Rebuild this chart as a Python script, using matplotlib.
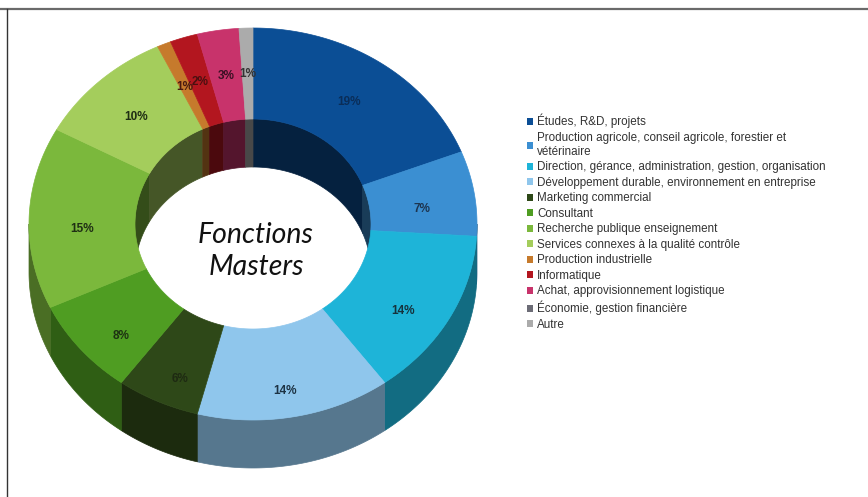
import numpy as np
import matplotlib
matplotlib.use('Agg')
import matplotlib.pyplot as plt
from matplotlib.patches import Polygon, Patch
from matplotlib.colors import to_rgb

# ------------------------------------------------------------
# Données
# ------------------------------------------------------------
categories = [
    "Études, R&D, projets",
    "Production agricole, conseil agricole, forestier et\nvétérinaire",
    "Direction, gérance, administration, gestion, organisation",
    "Développement durable, environnement en entreprise",
    "Marketing commercial",
    "Consultant",
    "Recherche publique enseignement",
    "Services connexes à la qualité contrôle",
    "Production industrielle",
    "Informatique",
    "Achat, approvisionnement logistique",
    "Économie, gestion financière",
    "Autre",
]
values = [19, 7, 14, 14, 6, 8, 15, 10, 1, 2, 3, 0, 1]
colors = ["#0b4e95", "#3b8fd2", "#1eb4d8", "#8fc6ec", "#2e4818", "#4f9d22",
          "#7bb83c", "#a4cd5c", "#c67a2c", "#b3161f", "#c8336b", "#6c6c76",
          "#ababab"]
label_colors = ["#0a2d58", "#1d3550", "#16323c", "#1d3344", "#1e2a12", "#1d3212",
                "#1f2e14", "#1f2e14", "#4a1a10", "#4a1010", "#3a1024", "#222222",
                "#333333"]
center_title = "Fonctions\nMasters"

# ------------------------------------------------------------
# Géométrie de l'anneau 3D (coordonnées en pixels)
# ------------------------------------------------------------
CX, CY = 253, 224
RX, RY = 224, 196
IX, IY = 118, 105
DEPTH = 48


def shade(c, k):
    return tuple(np.clip(np.array(to_rgb(c)) * k, 0, 1))


def arc(t0, t1, a, b, dz=0.0, n=80):
    t = np.radians(np.linspace(t0, t1, n))
    return np.column_stack([CX + a * np.sin(t), CY - b * np.cos(t) + dz])


def clip(t0, t1, lo, hi):
    a, b = max(t0, lo), min(t1, hi)
    return (a, b) if b > a else None


fig = plt.figure(figsize=(8.68, 4.97), dpi=100)
ax = fig.add_axes([0, 0, 1, 1])
ax.set_xlim(0, 868)
ax.set_ylim(497, 0)
ax.axis('off')

total = float(sum(values))
bounds = np.concatenate([[0], np.cumsum(values)]) / total * 360.0

# murs extérieurs (moitié avant)
for i, c in enumerate(colors):
    seg = clip(bounds[i], bounds[i + 1], 90, 270)
    if seg is None:
        continue
    top = arc(seg[0], seg[1], RX, RY)
    bot = arc(seg[1], seg[0], RX, RY, DEPTH)
    ax.add_patch(Polygon(np.vstack([top, bot]), closed=True,
                         facecolor=shade(c, 0.6), edgecolor=shade(c, 0.6),
                         lw=0.5, zorder=1))

# murs intérieurs (moitié arrière, visibles dans le trou)
for i, c in enumerate(colors):
    for lo, hi in [(0, 90), (270, 360)]:
        seg = clip(bounds[i], bounds[i + 1], lo, hi)
        if seg is None:
            continue
        top = arc(seg[0], seg[1], IX, IY)
        bot = arc(seg[1], seg[0], IX, IY, DEPTH)
        ax.add_patch(Polygon(np.vstack([top, bot]), closed=True,
                             facecolor=shade(c, 0.42), edgecolor=shade(c, 0.42),
                             lw=0.5, zorder=2))

# face supérieure
for i, c in enumerate(colors):
    if values[i] == 0:
        continue
    outer = arc(bounds[i], bounds[i + 1], RX, RY)
    inner = arc(bounds[i + 1], bounds[i], IX, IY)
    ax.add_patch(Polygon(np.vstack([outer, inner]), closed=True,
                         facecolor=c, edgecolor=c, lw=0.5, zorder=3))

# étiquettes en %
for i, v in enumerate(values):
    if v == 0:
        continue
    mid = np.radians((bounds[i] + bounds[i + 1]) / 2)
    a = (RX + IX) / 2
    b = 160
    x = CX + a * np.sin(mid)
    y = CY - b * np.cos(mid) + 10
    ax.text(x, y, f"{v}%", ha='center', va='center', fontsize=8.5,
            fontweight='bold', color=label_colors[i],
            family='Liberation Sans', zorder=5)

# titre central
ax.text(CX + 3, CY + 27, center_title, ha='center', va='center',
        fontsize=20.5, style='italic', fontweight='normal', family='Lato',
        color='#111111', linespacing=1.25, zorder=6)

# légende
handles = [Patch(facecolor=c, edgecolor='none') for c in colors]
leg = ax.legend(handles, categories, loc='upper left',
                bbox_to_anchor=(527 / 868, 1 - 114 / 497), frameon=False,
                prop={'family': 'Liberation Sans', 'size': 8.4},
                labelcolor='#333333', handlelength=0.55, handleheight=0.55,
                handletextpad=0.3, labelspacing=0.3, borderaxespad=0,
                borderpad=0)

# cadre
ax.plot([0, 868], [8.5, 8.5], color='#6a6a6a', lw=1.6, zorder=0)
ax.plot([6.5, 6.5], [8.5, 497], color='#333333', lw=1.0, zorder=0)

plt.savefig('out.png', dpi=100)
plt.close()
